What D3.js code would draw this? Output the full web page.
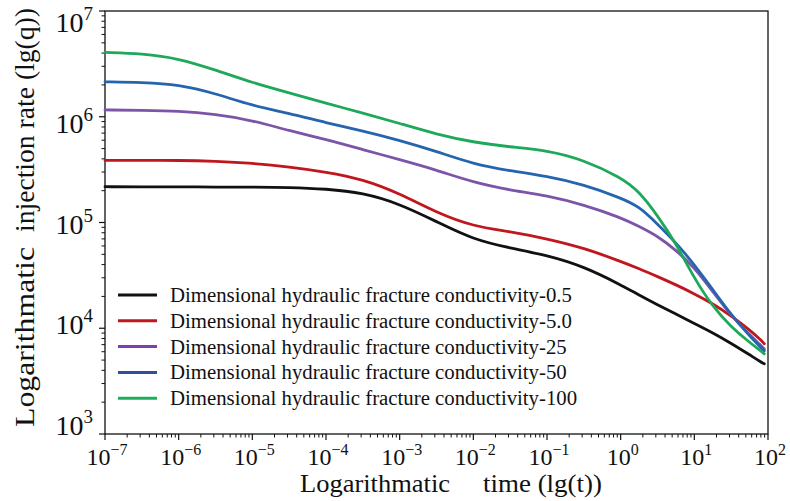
<!DOCTYPE html>
<html>
<head>
<meta charset="utf-8">
<script src="https://cdn.jsdelivr.net/npm/d3@7"></script>
<style>
  html, body { margin: 0; padding: 0; background: #fff; }
  svg { display: block; }
  text { font-family: "Liberation Serif", "DejaVu Serif", serif; fill: #111; }
</style>
</head>
<body>
<svg id="chart" width="790" height="501"></svg>
<script>
// ---- data ----
const times = [1e-7, 3.16e-7, 1e-6, 3.16e-6, 1e-5, 3.16e-5, 1e-4, 3.16e-4, 1e-3, 3.16e-3,
               1e-2, 3.16e-2, 0.1, 0.316, 1, 1.78, 3.16, 5.62, 10, 17.8, 31.6, 56.2, 79.4, 89.1];
const seriesNames = [
  "Dimensional hydraulic fracture conductivity-0.5",
  "Dimensional hydraulic fracture conductivity-5.0",
  "Dimensional hydraulic fracture conductivity-25",
  "Dimensional hydraulic fracture conductivity-50",
  "Dimensional hydraulic fracture conductivity-100"
];
const q05 = [2.18e5, 2.175e5, 2.17e5, 2.165e5, 2.16e5, 2.15e5, 2.08e5, 1.91e5, 1.50e5, 1.02e5,
             6.90e4, 5.73e4, 4.91e4, 3.84e4, 2.58e4, 2.06e4, 1.67e4, 1.36e4, 1.11e4, 9.06e3, 7.21e3, 5.61e3, 4.81e3, 4.61e3];
const q5 = [3.87e5, 3.87e5, 3.87e5, 3.79e5, 3.64e5, 3.36e5, 3.01e5, 2.56e5, 1.88e5, 1.24e5,
            9.17e4, 8.22e4, 7.01e4, 5.74e4, 4.29e4, 3.66e4, 3.08e4, 2.58e4, 2.12e4, 1.71e4, 1.31e4, 9.68e3, 7.78e3, 7.13e3];
const q25 = [1.16e6, 1.15e6, 1.135e6, 1.056e6, 9.26e5, 7.37e5, 6.12e5, 4.89e5, 3.93e5, 3.14e5,
             2.39e5, 2.02e5, 1.80e5, 1.47e5, 1.115e5, 9.17e4, 7.45e4, 5.49e4, 3.76e4, 2.22e4, 1.31e4, 8.68e3, 6.90e3, 6.39e3];
const q50 = [2.14e6, 2.11e6, 2.02e6, 1.66e6, 1.27e6, 1.08e6, 8.77e5, 7.37e5, 5.99e5, 4.71e5,
             3.57e5, 3.08e5, 2.74e5, 2.28e5, 1.71e5, 1.42e5, 9.68e4, 6.46e4, 4.00e4, 2.32e4, 1.34e4, 8.49e3, 6.61e3, 6.12e3];
const q100 = [4.06e6, 3.96e6, 3.56e6, 2.77e6, 2.10e6, 1.68e6, 1.34e6, 1.087e6, 8.64e5, 6.83e5,
              5.73e5, 5.18e5, 4.81e5, 3.91e5, 2.67e5, 1.97e5, 1.165e5, 6.38e4, 2.95e4, 1.60e4, 1.027e4, 7.35e3, 6.12e3, 5.73e3];
const xTickExps = [-7, -6, -5, -4, -3, -2, -1, 0, 1, 2];
const yTickExps = [3, 4, 5, 6, 7];
const xTitleParts = ["Logarithmatic", "time (lg(t))"];
const yTitleParts = ["Logarithmatic", "injection rate (lg(q))"];

const seriesValues = [q05, q5, q25, q50, q100];
const colors = ["#111111", "#c0161e", "#7c55a8", "#2565ad", "#1ea85a"];
const legendColors = ["#111111", "#c0161e", "#7a3fb0", "#2f4f9c", "#1eae5c"];

// ---- layout ----
const L = 105, R = 768, T = 11, B = 434;
const svg = d3.select("#chart");

const x = d3.scaleLog().domain([1e-7, 1e2]).range([L, R]);
const y = d3.scaleLog().domain([1e3, 1e7]).range([B, T]);
// label positions in the reference are spaced slightly tighter than the ticks
const yLab = d3.scaleLog().domain([1e3, 1e7]).range([435, 32]);

// frame
svg.append("rect").attr("x", L).attr("y", T).attr("width", R - L).attr("height", B - T)
  .attr("fill", "none").attr("stroke", "#111").attr("stroke-width", 1.3);

// x ticks
const xMinor = [];
for (let e = -7; e < 2; e++) for (let m = 2; m <= 9; m++) xMinor.push(m * Math.pow(10, e));
svg.append("g").selectAll("line").data(xMinor).join("line")
  .attr("x1", d => x(d)).attr("x2", d => x(d)).attr("y1", B).attr("y2", B + 3.5)
  .attr("stroke", "#111").attr("stroke-width", 1);
svg.append("g").selectAll("line").data(xTickExps).join("line")
  .attr("x1", d => x(Math.pow(10, d))).attr("x2", d => x(Math.pow(10, d))).attr("y1", B).attr("y2", B + 6)
  .attr("stroke", "#111").attr("stroke-width", 1.2);

const xl = svg.append("g").selectAll("text").data(xTickExps).join("text")
  .attr("x", d => x(Math.pow(10, d)) + 2).attr("y", 465)
  .attr("text-anchor", "middle").style("font-size", "24px");
xl.append("tspan").text("10");
xl.append("tspan").attr("dy", -10).style("font-size", "16px")
  .text(d => (d < 0 ? "\u2212" + (-d) : String(d)));

// y ticks
const yMinor = [];
for (let e = 3; e < 7; e++) for (let m = 2; m <= 9; m++) yMinor.push(m * Math.pow(10, e));
svg.append("g").selectAll("line").data(yMinor).join("line")
  .attr("x1", L - 3.5).attr("x2", L).attr("y1", d => y(d)).attr("y2", d => y(d))
  .attr("stroke", "#111").attr("stroke-width", 1);
svg.append("g").selectAll("line").data(yTickExps).join("line")
  .attr("x1", L - 6).attr("x2", L).attr("y1", d => y(Math.pow(10, d))).attr("y2", d => y(Math.pow(10, d)))
  .attr("stroke", "#111").attr("stroke-width", 1.2);

const yl = svg.append("g").selectAll("text").data(yTickExps).join("text")
  .attr("x", 93).attr("y", d => yLab(Math.pow(10, d)))
  .attr("text-anchor", "end").style("font-size", "28px");
yl.append("tspan").text("10");
yl.append("tspan").attr("dy", -12).style("font-size", "19px").text(d => String(d));

// curves
const line = d3.line().x((d, i) => x(times[i])).y(d => y(d)).curve(d3.curveBasis);
svg.append("g").selectAll("path").data(seriesValues).join("path")
  .attr("d", d => line(d)).attr("fill", "none")
  .attr("stroke", (d, i) => colors[i]).attr("stroke-width", 2.8)
  .attr("stroke-linejoin", "round").attr("stroke-linecap", "round");

// legend
const lg = svg.append("g").selectAll("g").data(seriesNames).join("g")
  .attr("transform", (d, i) => `translate(0, ${295 + i * 25.8})`);
lg.append("line").attr("x1", 118).attr("x2", 157).attr("y1", 0).attr("y2", 0)
  .attr("stroke", (d, i) => legendColors[i]).attr("stroke-width", 3);
lg.append("text").attr("x", 170).attr("y", 7).style("font-size", "20.8px").text(d => d);

// axis titles
const xtPos = [[300, 150], [483, 119]];
svg.append("g").selectAll("text").data(xTitleParts).join("text")
  .attr("x", (d, i) => xtPos[i][0]).attr("y", 492).style("font-size", "25px")
  .attr("textLength", (d, i) => xtPos[i][1]).attr("lengthAdjust", "spacingAndGlyphs")
  .text(d => d);
const ytPos = [[427, 180], [232, 224]];
svg.append("g").selectAll("text").data(yTitleParts).join("text")
  .attr("transform", (d, i) => `translate(34, ${ytPos[i][0]}) rotate(-90)`)
  .style("font-size", "27px")
  .attr("textLength", (d, i) => ytPos[i][1]).attr("lengthAdjust", "spacingAndGlyphs")
  .text(d => d);
</script>
</body>
</html>
